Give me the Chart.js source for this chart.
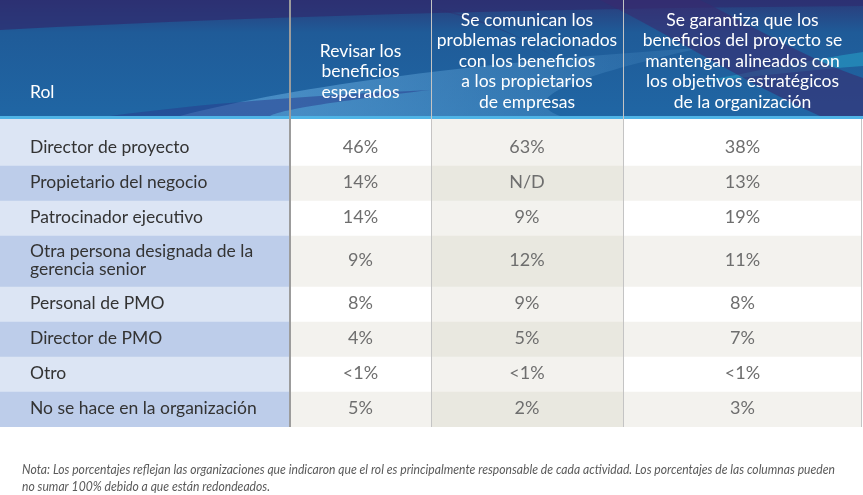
<!DOCTYPE html>
<html>
<head>
<meta charset="utf-8">
<script src="https://cdn.jsdelivr.net/npm/chart.js@4.4.1/dist/chart.umd.min.js"></script>
<style>
  html, body { margin: 0; background: #fff; }
  canvas { display: block; }
</style>
</head>
<body>
<canvas id="tabla" width="863" height="495"></canvas>
<script>
// data
const roles = [
  'Director de proyecto',
  'Propietario del negocio',
  'Patrocinador ejecutivo',
  ['Otra persona designada de la', 'gerencia senior'],
  'Personal de PMO',
  'Director de PMO',
  'Otro',
  'No se hace en la organización'
];
const headers = [
  ['Rol'],
  ['Revisar los', 'beneficios', 'esperados'],
  ['Se comunican los', 'problemas relacionados', 'con los beneficios', 'a los propietarios', 'de empresas'],
  ['Se garantiza que los', 'beneficios del proyecto se', 'mantengan alineados con', 'los objetivos estratégicos', 'de la organización']
];
const revisar = ['46%', '14%', '14%', '9%', '8%', '4%', '<1%', '5%'];
const comunican = ['63%', 'N/D', '9%', '12%', '9%', '5%', '<1%', '2%'];
const garantiza = ['38%', '13%', '19%', '11%', '8%', '7%', '<1%', '3%'];
const nota = [
  'Nota: Los porcentajes reflejan las organizaciones que indicaron que el rol es principalmente responsable de cada actividad. Los porcentajes de las columnas pueden',
  'no sumar 100% debido a que están redondeados.'
];

// layout
const colWidths = [290, 141, 192, 239];
const LINE = 16, PAD = 19, TOP_PAD = 12;
const headerDrop = [27, 27, 17, 17];
const headerLine = 20.5;
const FONT = 'Lato, "Open Sans", sans-serif';

const columns = [roles, revisar, comunican, garantiza];
const fills = [
  ['#dce5f4', '#bdcdea'],
  ['#ffffff', '#f3f2ee'],
  ['#f3f2ee', '#e9e8e0'],
  ['#ffffff', '#f3f2ee']
];

const colEdges = [0];
colWidths.forEach(w => colEdges.push(colEdges[colEdges.length - 1] + w));
const rowEdges = [0];
roles.forEach(r => rowEdges.push(rowEdges[rowEdges.length - 1] + LINE * [].concat(r).length + PAD));

const datasets = columns.map((col, c) => ({
  label: headers[c].join(' '),
  data: col.map((_, i) => ({
    x: (colEdges[c] + colEdges[c + 1]) / 2,
    y: [i === 0 ? -TOP_PAD : rowEdges[i], rowEdges[i + 1]]
  })),
  backgroundColor: col.map((_, i) => fills[c][i % 2]),
  borderWidth: 0,
  grouped: false,
  barThickness: (ctx) => {
    const s = ctx.chart.scales.x;
    if (!s || !s.width) return 1;
    return s.getPixelForValue(colEdges[ctx.datasetIndex + 1]) - s.getPixelForValue(colEdges[ctx.datasetIndex]);
  }
}));

const headerBg = {
  id: 'headerBg',
  beforeDraw(chart) {
    const { ctx, width, chartArea } = chart;
    const h = chartArea.top - 3;
    ctx.save();
    ctx.fillStyle = '#fff';
    ctx.fillRect(0, 0, width, chart.height);
    let g = ctx.createLinearGradient(0, 0, 0, h);
    g.addColorStop(0, '#2b3b7a');
    g.addColorStop(0.28, '#1f5b98');
    g.addColorStop(1, '#2066a4');
    ctx.fillStyle = g;
    ctx.fillRect(0, 0, width, h);

    // dark sweep at top
    ctx.fillStyle = 'rgba(46,46,112,0.75)';
    ctx.beginPath();
    ctx.moveTo(0, 0); ctx.lineTo(width, 0); ctx.lineTo(width, 6);
    ctx.bezierCurveTo(600, 8, 300, 14, 0, 30);
    ctx.closePath(); ctx.fill();

    // light sweep low in the middle
    g = ctx.createLinearGradient(290, 0, 640, 0);
    g.addColorStop(0, 'rgba(110,180,230,0.5)');
    g.addColorStop(1, 'rgba(110,180,230,0.15)');
    ctx.fillStyle = g;
    ctx.beginPath();
    ctx.moveTo(180, h);
    ctx.bezierCurveTo(300, 85, 480, 62, 700, 48);
    ctx.bezierCurveTo(560, 80, 520, 100, 560, h);
    ctx.closePath(); ctx.fill();

    // dark band lower left
    ctx.fillStyle = 'rgba(40,58,140,0.5)';
    ctx.beginPath();
    ctx.moveTo(110, h);
    ctx.bezierCurveTo(200, 104, 300, 96, 430, 90);
    ctx.bezierCurveTo(330, 102, 280, 110, 270, h);
    ctx.closePath(); ctx.fill();

    // dark wedge top of the third column
    ctx.fillStyle = 'rgba(50,46,110,0.45)';
    ctx.beginPath();
    ctx.moveTo(431, 8);
    ctx.bezierCurveTo(480, 20, 520, 35, 560, 60);
    ctx.bezierCurveTo(510, 30, 470, 14, 431, 8);
    ctx.closePath(); ctx.fill();

    // teal streak right
    ctx.fillStyle = 'rgba(40,170,205,0.5)';
    ctx.beginPath();
    ctx.moveTo(700, 82);
    ctx.bezierCurveTo(760, 70, 810, 60, width, 52);
    ctx.lineTo(width, 66);
    ctx.bezierCurveTo(810, 70, 760, 76, 700, 82);
    ctx.closePath(); ctx.fill();

    // purple diagonal band right
    ctx.fillStyle = 'rgba(56,44,112,0.6)';
    ctx.beginPath();
    ctx.moveTo(600, 0); ctx.lineTo(700, 0);
    ctx.bezierCurveTo(760, 30, 810, 60, width, 78);
    ctx.lineTo(width, h); ctx.lineTo(820, h);
    ctx.bezierCurveTo(740, 80, 680, 40, 600, 0);
    ctx.closePath(); ctx.fill();

    // stripe
    ctx.fillStyle = '#4fb4e6';
    ctx.fillRect(0, h, width, 3);
    ctx.restore();
  }
};

const tableText = {
  id: 'tableText',
  afterDatasetsDraw(chart) {
    const { ctx, chartArea, scales: { x, y } } = chart;
    ctx.save();
    // separators
    const top = chartArea.top - 3;
    const line = (px, w, col, from) => {
      ctx.fillStyle = col;
      ctx.fillRect(Math.round(px) - (w > 1 ? 1 : 0), from, w, chartArea.bottom - from);
    };
    line(x.getPixelForValue(colEdges[1]), 2, '#9c9c9c', 0);
    line(x.getPixelForValue(colEdges[2]), 1, '#c4c4c4', 0);
    line(x.getPixelForValue(colEdges[3]), 1, '#c4c4c4', 0);
    line(x.getPixelForValue(colEdges[4]) - 1, 1, '#c4c4c4', top + 3);

    // headers
    ctx.fillStyle = '#ffffff';
    ctx.font = '17.5px ' + FONT;
    ctx.textBaseline = 'middle';
    headers.forEach((lines, c) => {
      const last = top - headerDrop[c] + 3;
      lines.forEach((t, k) => {
        const yy = last - (lines.length - 1 - k) * headerLine;
        if (c === 0) {
          ctx.textAlign = 'left';
          ctx.fillText(t, x.getPixelForValue(colEdges[0]) + 30, yy);
        } else {
          ctx.textAlign = 'center';
          ctx.fillText(t, x.getPixelForValue((colEdges[c] + colEdges[c + 1]) / 2), yy);
        }
      });
    });

    // cells
    chart.data.datasets.forEach((ds, c) => {
      chart.getDatasetMeta(c).data.forEach((bar, i) => {
        const lines = [].concat(columns[c][i]);
        const mid = y.getPixelForValue((rowEdges[i] + rowEdges[i + 1]) / 2) - 1;
        lines.forEach((t, k) => {
          const yy = mid + (k - (lines.length - 1) / 2) * 18;
          if (c === 0) {
            ctx.fillStyle = '#333333';
            ctx.font = '17.5px ' + FONT;
            ctx.textAlign = 'left';
            ctx.fillText(t, bar.x - bar.width / 2 + 30, yy);
          } else {
            ctx.fillStyle = '#6e6e6e';
            ctx.font = '18px ' + FONT;
            ctx.textAlign = 'center';
            ctx.fillText(t, bar.x, yy);
          }
        });
      });
    });

    // footnote, squeezed like a condensed face
    ctx.fillStyle = '#5a5a5a';
    ctx.font = 'italic 13px ' + FONT;
    ctx.textAlign = 'left';
    const k = 813 / ctx.measureText(nota[0]).width;
    ctx.fillText(nota[0], 22, chartArea.bottom + 43, 813);
    ctx.fillText(nota[1], 22, chartArea.bottom + 60, ctx.measureText(nota[1]).width * k);
    ctx.restore();
  }
};

new Chart(document.getElementById('tabla'), {
  type: 'bar',
  data: { labels: roles.map(r => [].concat(r).join(' ')), datasets },
  options: {
    responsive: false,
    animation: false,
    devicePixelRatio: 1,
    layout: { padding: { top: 119, bottom: 68, left: 0, right: 1 } },
    plugins: { legend: { display: false }, tooltip: { enabled: false } },
    scales: {
      x: { type: 'linear', display: false, offset: false, min: colEdges[0], max: colEdges[colEdges.length - 1] },
      y: { type: 'linear', display: false, reverse: true, min: -TOP_PAD, max: rowEdges[rowEdges.length - 1] }
    }
  },
  plugins: [headerBg, tableText]
});
</script>
</body>
</html>
